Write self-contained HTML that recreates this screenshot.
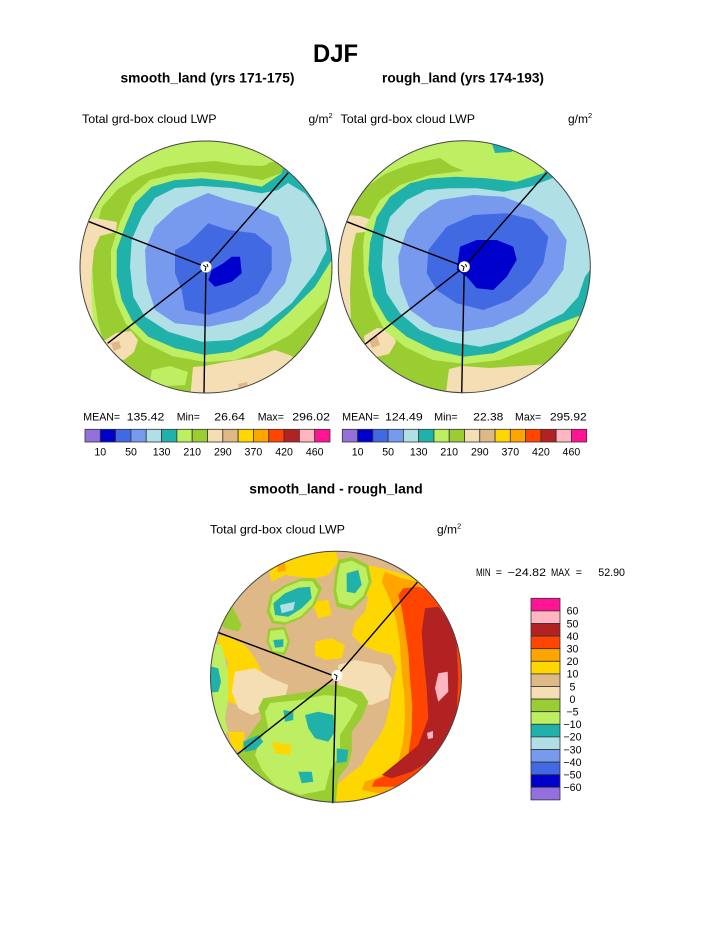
<!DOCTYPE html>
<html><head><meta charset="utf-8"><style>
html,body{margin:0;padding:0;background:#fff;}
svg{display:block;}
text{font-family:"Liberation Sans",Arial,sans-serif;fill:#000;}
</style></head><body>
<svg width="723" height="935" viewBox="0 0 723 935" xmlns="http://www.w3.org/2000/svg">
<rect width="723" height="935" fill="#fff"/>
<defs>
<clipPath id="cTL"><circle cx="206" cy="267" r="126"/></clipPath>
<clipPath id="cTR"><circle cx="464.3" cy="266.7" r="126"/></clipPath>
<clipPath id="cB"><circle cx="336" cy="676.7" r="125.5"/></clipPath>
</defs>

<!-- Titles -->
<text x="313" y="62" font-size="25" font-weight="bold" textLength="45" lengthAdjust="spacingAndGlyphs">DJF</text>
<text x="120.5" y="82.5" font-size="14" font-weight="bold" textLength="174" lengthAdjust="spacingAndGlyphs">smooth_land (yrs 171-175)</text>
<text x="382" y="82.5" font-size="14" font-weight="bold" textLength="162" lengthAdjust="spacingAndGlyphs">rough_land (yrs 174-193)</text>
<text x="82" y="123" font-size="12" textLength="134.5" lengthAdjust="spacingAndGlyphs">Total grd-box cloud LWP</text>
<text x="308.5" y="123" font-size="12">g/m<tspan font-size="7.5" dy="-5">2</tspan></text>
<text x="340.5" y="123" font-size="12" textLength="134.5" lengthAdjust="spacingAndGlyphs">Total grd-box cloud LWP</text>
<text x="568" y="123" font-size="12">g/m<tspan font-size="7.5" dy="-5">2</tspan></text>

<!-- ===== TOP LEFT PLOT ===== -->
<g clip-path="url(#cTL)">
<circle cx="206" cy="267" r="126" fill="#BEEE62"/>
<polygon fill="#9ACD32" points="282,160 262,166 240,165 215,161 190,163 165,167 140,176 118,189 102,207 94,235 92,265 94,295 98,322 104,345 125,372 160,392 200,400 235,380 262,372 290,360 312,345 328,330 345,320 345,160"/>
<polygon fill="#9ACD32" points="268,163 282,160 284,176 270,178"/>
<polygon fill="#F5DEB3" points="75,216 100,219 117,222 116,232 100,236 94,250 91,280 92,310 95,332 99,345 75,350"/>
<polygon fill="#F5DEB3" points="104,341 116,333 131,331 138,340 134,352 124,360 110,357"/>
<polygon fill="#DEB887" points="111,343 119,341 121,348 114,351"/>
<polygon fill="#F5DEB3" points="193,367 205,366 225,362 250,358 275,350 292,356 300,370 300,400 190,400"/>
<polygon fill="#DEB887" points="238,384 247,382 249,389 240,391"/>
<polygon fill="#BEEE62" points="152,370 170,366 188,372 185,385 165,386 150,380"/>
<polygon fill="#BEEE62" points="285,172 262,180 235,175 202,172 175,174 150,180 132,196 120,222 111,250 111,278 116,302 126,324 144,342 172,356 205,362 235,360 262,350 290,335 315,312 335,290 345,290 345,165"/>
<polygon fill="#20B2AA" points="281.7,173.3 261.7,186.7 235,181.7 201.7,178.3 175,180 151.7,186.7 135,203 125,226.7 116.7,250 116.7,276.7 121.7,300 131.7,320 148.3,336.7 175,348.3 205,355 231.7,351.7 261.7,336.7 288.3,313.3 315,286.7 331.7,260 345,260 345,165 285,160"/>
<polygon fill="#B0E0E6" points="278,190 261.7,193.3 231.7,188 201.7,186 175,188 155,198 141.7,216.7 131.7,240 130,266.7 133.3,296.7 145,316.7 168.3,331.7 201.7,341.7 231.7,340 261.7,326.7 291.7,303.3 315,273.3 326.7,250 323.3,216.7 305,193.3 288,183"/>
<polygon fill="#7799EE" points="208,193 228,200 255,206.7 278.3,216.7 288.3,236.7 291.7,260 285,283.3 268.3,303.3 241.7,320 208.3,326.7 175,323.3 155,310 146.7,283.3 145,250 155,226.7 175,208.3 191.7,200"/>
<polygon fill="#4169E1" points="208.3,223.3 228.3,230 255,233.3 271.7,246.7 271.7,270 258.3,293.3 235,306.7 208.3,315 185,310 181.7,290 175,273.3 175,250 188.3,243.3 201.7,230"/>
<polygon fill="#0000CD" points="231.7,256.7 240,256.7 241.7,273.3 231.7,281.7 215,286.7 208.3,280 211.7,270 223.3,263.3"/>
</g>
<g stroke="#000" stroke-width="1.4" fill="none">
<line x1="206" y1="267" x2="288.3" y2="172.7"/>
<line x1="206" y1="267" x2="89" y2="221.7"/>
<line x1="206" y1="267" x2="107.7" y2="343.3"/>
<line x1="206" y1="267" x2="204" y2="393"/>
</g>
<circle cx="206" cy="267" r="5.5" fill="#fff"/>
<path d="M203,265 l3,2 l-1,4 M207,264 l1,3" stroke="#000" stroke-width="1" fill="none"/>
<circle cx="206" cy="267" r="126" fill="none" stroke="#444" stroke-width="1"/>

<!-- ===== TOP RIGHT PLOT ===== -->
<g clip-path="url(#cTR)">
<circle cx="464.3" cy="266.7" r="126" fill="#BEEE62"/>
<polygon fill="#20B2AA" points="490,138 515,138 512,152 495,153"/>
<polygon fill="#9ACD32" points="345,222 352,205 365,188 385,174 410,164 440,158 452,166 500,185 540,190 570,240 585,290 597,335 600,400 330,400 330,350 350,340 350,230"/>
<polygon fill="#F5DEB3" points="333,214 360,216 375,221 373,231 356,233 352,250 350,290 351,330 357,346 333,352"/>
<polygon fill="#F5DEB3" points="364,336 377,328 392,330 396,342 389,354 376,357 366,349"/>
<polygon fill="#DEB887" points="369,339 377,336 380,345 372,348"/>
<polygon fill="#F5DEB3" points="449,369 462,366 490,368 520,366 550,364 575,358 592,362 600,400 445,400"/>
<polygon fill="#BEEE62" points="366,225 380,200 400,185 430,175 470,170 500,172 545,165 600,165 600,325 588,322 560,335 530,348 500,360 465,364 433,360 405,347 385,331 372,306 364,276 363,245"/>
<polygon fill="#20B2AA" points="543.3,173.3 516.7,181.7 486.7,178.3 456.7,176.7 430,178.3 410,183.3 390,196.7 376.7,216.7 370,243.3 368.3,270 373.3,296.7 386.7,320 406.7,336.7 433.3,350 463.3,356.7 493.3,353.3 523.3,340 550,326.7 576.7,316.7 588.3,313.3 600,312 600,160 555,160"/>
<polygon fill="#B0E0E6" points="530,186.7 503.3,191.7 476.7,188.3 450,188.3 426.7,190 406.7,200 390,216.7 383.3,240 381.7,266.7 386.7,293.3 400,313.3 420,330 450,341.7 480,346.7 510,340 536.7,326.7 563.3,313.3 578.3,296.7 585,276.7 600,256 605,175 558,176"/>
<polygon fill="#7799EE" points="440,200 473.3,195 503.3,196.7 530,206.7 553.3,220 566.7,240 563.3,270 546.7,293.3 523.3,313.3 493.3,326.7 463.3,331.7 433.3,326.7 410,310 400,283.3 398.3,256.7 406.7,230 420,213.3"/>
<polygon fill="#4169E1" points="446.7,226.7 473.3,215 506.7,213.3 533.3,220 548.3,236.7 543.3,263.3 530,283.3 510,300 483.3,310 456.7,303.3 436.7,290 426.7,273.3 428.3,250"/>
<polygon fill="#0000CD" points="460,246.7 476.7,240 496.7,240 513.3,246.7 516.7,260 506.7,276.7 493.3,290 476.7,288.3 466.7,276.7 456.7,270"/>
</g>
<g stroke="#000" stroke-width="1.4" fill="none">
<line x1="464.3" y1="266.7" x2="546.7" y2="172.7"/>
<line x1="464.3" y1="266.7" x2="346.7" y2="221.7"/>
<line x1="464.3" y1="266.7" x2="365" y2="344.3"/>
<line x1="464.3" y1="266.7" x2="461.7" y2="393.3"/>
</g>
<circle cx="464.3" cy="266.7" r="5.5" fill="#fff"/>
<path d="M461,265 l3,2 l-1,4 M465.5,264 l1,3" stroke="#000" stroke-width="1" fill="none"/>
<circle cx="464.3" cy="266.7" r="126" fill="none" stroke="#444" stroke-width="1"/>

<!-- Stats text -->
<g font-size="10.6">
<text x="83.3" y="420.5">MEAN=</text>
<text x="126.7" y="420.5" textLength="37.6" lengthAdjust="spacingAndGlyphs">135.42</text>
<text x="176.7" y="420.5">Min=</text>
<text x="214.3" y="420.5" textLength="30.7" lengthAdjust="spacingAndGlyphs">26.64</text>
<text x="257.7" y="420.5">Max=</text>
<text x="292.3" y="420.5" textLength="37.7" lengthAdjust="spacingAndGlyphs">296.02</text>
<text x="342.3" y="420.5">MEAN=</text>
<text x="385" y="420.5" textLength="37.7" lengthAdjust="spacingAndGlyphs">124.49</text>
<text x="434.3" y="420.5">Min=</text>
<text x="473.3" y="420.5" textLength="30" lengthAdjust="spacingAndGlyphs">22.38</text>
<text x="515" y="420.5">Max=</text>
<text x="550" y="420.5" textLength="36.7" lengthAdjust="spacingAndGlyphs">295.92</text>
</g>

<!-- Top-left colorbar -->
<g stroke="#333" stroke-width="0.8">
<rect x="85" y="429.3" width="15.31" height="12.7" fill="#9370DB"/>
<rect x="100.31" y="429.3" width="15.31" height="12.7" fill="#0000CD"/>
<rect x="115.63" y="429.3" width="15.31" height="12.7" fill="#4169E1"/>
<rect x="130.94" y="429.3" width="15.31" height="12.7" fill="#7799EE"/>
<rect x="146.25" y="429.3" width="15.31" height="12.7" fill="#B0E0E6"/>
<rect x="161.56" y="429.3" width="15.31" height="12.7" fill="#20B2AA"/>
<rect x="176.88" y="429.3" width="15.31" height="12.7" fill="#BEEE62"/>
<rect x="192.19" y="429.3" width="15.31" height="12.7" fill="#9ACD32"/>
<rect x="207.5" y="429.3" width="15.31" height="12.7" fill="#F5DEB3"/>
<rect x="222.81" y="429.3" width="15.31" height="12.7" fill="#DEB887"/>
<rect x="238.13" y="429.3" width="15.31" height="12.7" fill="#FFD700"/>
<rect x="253.44" y="429.3" width="15.31" height="12.7" fill="#FFA500"/>
<rect x="268.75" y="429.3" width="15.31" height="12.7" fill="#FF4500"/>
<rect x="284.06" y="429.3" width="15.31" height="12.7" fill="#B22222"/>
<rect x="299.38" y="429.3" width="15.31" height="12.7" fill="#FFB6C1"/>
<rect x="314.69" y="429.3" width="15.31" height="12.7" fill="#FF1493"/>
</g>
<g font-size="10.6" text-anchor="middle">
<text x="100.3" y="455.7">10</text>
<text x="131" y="455.7">50</text>
<text x="161.6" y="455.7">130</text>
<text x="192.2" y="455.7">210</text>
<text x="222.8" y="455.7">290</text>
<text x="253.4" y="455.7">370</text>
<text x="284.1" y="455.7">420</text>
<text x="314.7" y="455.7">460</text>
</g>

<!-- Top-right colorbar -->
<g stroke="#333" stroke-width="0.8">
<rect x="342.3" y="429.3" width="15.28" height="12.7" fill="#9370DB"/>
<rect x="357.58" y="429.3" width="15.28" height="12.7" fill="#0000CD"/>
<rect x="372.85" y="429.3" width="15.28" height="12.7" fill="#4169E1"/>
<rect x="388.13" y="429.3" width="15.28" height="12.7" fill="#7799EE"/>
<rect x="403.4" y="429.3" width="15.28" height="12.7" fill="#B0E0E6"/>
<rect x="418.68" y="429.3" width="15.28" height="12.7" fill="#20B2AA"/>
<rect x="433.95" y="429.3" width="15.28" height="12.7" fill="#BEEE62"/>
<rect x="449.23" y="429.3" width="15.28" height="12.7" fill="#9ACD32"/>
<rect x="464.5" y="429.3" width="15.28" height="12.7" fill="#F5DEB3"/>
<rect x="479.78" y="429.3" width="15.28" height="12.7" fill="#DEB887"/>
<rect x="495.05" y="429.3" width="15.28" height="12.7" fill="#FFD700"/>
<rect x="510.33" y="429.3" width="15.28" height="12.7" fill="#FFA500"/>
<rect x="525.6" y="429.3" width="15.28" height="12.7" fill="#FF4500"/>
<rect x="540.88" y="429.3" width="15.28" height="12.7" fill="#B22222"/>
<rect x="556.15" y="429.3" width="15.28" height="12.7" fill="#FFB6C1"/>
<rect x="571.43" y="429.3" width="15.28" height="12.7" fill="#FF1493"/>
</g>
<g font-size="10.6" text-anchor="middle">
<text x="357.6" y="455.7">10</text>
<text x="388.1" y="455.7">50</text>
<text x="418.7" y="455.7">130</text>
<text x="449.2" y="455.7">210</text>
<text x="479.8" y="455.7">290</text>
<text x="510.3" y="455.7">370</text>
<text x="540.9" y="455.7">420</text>
<text x="571.4" y="455.7">460</text>
</g>

<!-- Bottom titles -->
<text x="249.3" y="493.3" font-size="14" font-weight="bold" textLength="173.4" lengthAdjust="spacingAndGlyphs">smooth_land - rough_land</text>
<text x="210" y="533.3" font-size="12" textLength="135" lengthAdjust="spacingAndGlyphs">Total grd-box cloud LWP</text>
<text x="437" y="533.3" font-size="12">g/m<tspan font-size="7.5" dy="-5">2</tspan></text>

<g font-size="10.6">
<text x="476" y="576" textLength="14.7" lengthAdjust="spacingAndGlyphs">MIN</text>
<text x="495.7" y="576">=</text>
<text x="507.7" y="576" textLength="38.3" lengthAdjust="spacingAndGlyphs">−24.82</text>
<text x="551" y="576" textLength="19" lengthAdjust="spacingAndGlyphs">MAX</text>
<text x="575.7" y="576">=</text>
<text x="598.3" y="576" textLength="26.7" lengthAdjust="spacingAndGlyphs">52.90</text>
</g>

<!-- ===== BOTTOM DIFF PLOT ===== -->
<g clip-path="url(#cB)">
<circle cx="336" cy="676.7" r="125.5" fill="#DEB887"/>
<!-- yellows -->
<polygon fill="#FFD700" points="365,565 381.7,568.3 405,575 480,600 480,820 333.3,820 333.3,803.3 336.7,785 348.3,775 361.7,765 368.3,751.7 378.3,738.3 385,725 390,705 391.7,685 396.7,668.3 391.7,655 378.3,651.7 361.7,645 351.7,635 355,621.7 365,611.7 368.3,598.3 361.7,585 361.7,571.7"/>
<polygon fill="#FFD700" points="268.3,568.3 271.7,558.3 291.7,548 335,548 338.3,561.7 328.3,575 315,578.3 298.3,576.7 285,575 271.7,581.7"/>
<polygon fill="#FFD700" points="218.3,635 231.7,638.3 245,645 255,658.3 261.7,671.7 258.3,685 248.3,698.3 238.3,705 228.3,701.7 225,685 228.3,661.7 218.3,648.3"/>
<polygon fill="#FFD700" points="315,641.7 331.7,638.3 345,645 341.7,658.3 325,660 315,655"/>
<polygon fill="#FFD700" points="311.7,601.7 328.3,600 331.7,615 318.3,618.3"/>
<polygon fill="#FFA500" points="277,563 285,562 286,571 278,572"/>
<!-- wheat -->
<polygon fill="#F5DEB3" points="338.3,665 355,660 381.7,665 391.7,678.3 388.3,698.3 371.7,705 351.7,701.7 338.3,691.7"/>
<polygon fill="#F5DEB3" points="235,671.7 255,668.3 271.7,678.3 288.3,685 285,698.3 268.3,708.3 251.7,715 238.3,708.3 231.7,691.7"/>
<!-- green A -->
<polygon fill="#9ACD32" points="315,578.3 321.7,588.3 315,605 301.7,618.3 285,625 271.7,623.3 266.7,611.7 270,595 285,585 301.7,578.3"/>
<polygon fill="#BEEE62" transform="translate(293,602) scale(0.88) translate(-293,-602)" points="315,578.3 321.7,588.3 315,605 301.7,618.3 285,625 271.7,623.3 266.7,611.7 270,595 285,585 301.7,578.3"/>
<polygon fill="#20B2AA" points="310,586.7 311.7,598.3 301.7,608.3 288.3,616.7 275,615 273.3,603.3 285,593.3 298.3,587.7"/>
<polygon fill="#B0E0E6" points="280,605 295,601.7 293.3,610 281.7,613.3"/>
<!-- green B -->
<polygon fill="#9ACD32" points="338.3,560 351.7,556.7 368.3,565 371.7,581.7 365,598.3 351.7,610 336.7,606.7 333.3,591.7 335,575"/>
<polygon fill="#BEEE62" transform="translate(352,583) scale(0.85) translate(-352,-583)" points="338.3,560 351.7,556.7 368.3,565 371.7,581.7 365,598.3 351.7,610 336.7,606.7 333.3,591.7 335,575"/>
<polygon fill="#20B2AA" points="346.7,573.3 358.3,570 361.7,585 355,593.3 346.7,591.7"/>
<!-- green C -->
<polygon fill="#9ACD32" points="268.3,628.3 285,626.7 290,641.7 285,655 271.7,653.3 266.7,641.7"/>
<polygon fill="#BEEE62" transform="translate(278,641) scale(0.8) translate(-278,-641)" points="268.3,628.3 285,626.7 290,641.7 285,655 271.7,653.3 266.7,641.7"/>
<polygon fill="#20B2AA" points="273.3,640 283.3,639.3 283.3,646.7 275,647.7"/>
<!-- left edge -->
<polygon fill="#9ACD32" points="218.3,595 231.7,605 241.7,625 238.3,631.7 225,628.3 215,618.3"/>
<polygon fill="#BEEE62" points="205,641.7 221.7,645 228.3,671.7 228.3,698.3 225,718.3 228.3,731.7 218.3,738.3 205,735"/>
<polygon fill="#20B2AA" points="205,665 218.3,668.3 221,681.7 218.3,691.7 205,693.3"/>
<!-- big bottom-left green -->
<polygon fill="#9ACD32" points="263.3,698.3 285,695 308.3,691.7 328.3,685 338.3,685 361.7,691.7 368.3,701.7 361.7,718.3 351.7,731.7 351.7,751.7 348.3,765 338.3,778.3 335,810 300,812 255,800 245,771.7 238.3,758.3 241.7,745 251.7,731.7 261.7,718.3 258.3,708.3"/>
<polygon fill="#BEEE62" points="270,703 300,700 325,695 345,697 358,705 350,720 340,735 340,755 330,770 325,790 300,795 275,785 262,770 255,755 260,740 268,728 265,712"/>
<polygon fill="#20B2AA" points="305,715 318.3,711.7 333.3,715 335,731.7 328.3,741.7 315,738.3 308.3,728.3"/>
<polygon fill="#20B2AA" points="283.3,710 293.3,711.7 293.3,720 285,721.7"/>
<polygon fill="#20B2AA" points="243.3,741.7 258.3,735 263.3,741.7 255,750 245,751.7"/>
<polygon fill="#20B2AA" points="298.3,771.7 311.7,771.7 313.3,781.7 301.7,783.3"/>
<polygon fill="#20B2AA" points="336.7,748.3 348.3,750 346.7,761.7 336.7,763.3"/>
<polygon fill="#FFD700" points="271.7,741.7 291.7,745 290,755 275,753.3"/>
<polygon fill="#FFD700" points="228.3,731.7 245,731.7 241.7,751.7 231.7,748.3"/>
<!-- right crescent -->
<polygon fill="#FFA500" points="385,571.7 401.7,578.3 418.3,581.7 480,600 480,800 405,791.7 378.3,793.3 361.7,790 365,781.7 385,775 398.3,761.7 403.3,741.7 405,718.3 404.3,695 401.7,671.7 400,645 396.7,621.7 391.7,605 386.7,591.7 381.7,581.7"/>
<polygon fill="#FF4500" points="403.3,588.3 418.3,586.7 480,610 480,790 421.7,781.7 395,786.7 371.7,786.7 375,780 395,771.7 408.3,755 411.7,731.7 412.3,705 410,678.3 408.3,651.7 405,628.3 401.7,608.3 398.3,595"/>
<polygon fill="#B22222" points="425,608.3 438.3,606.7 450,621.7 456.7,645 458.3,678.3 456.7,711.7 448.3,738.3 435,758.3 411.7,771.7 391.7,778.3 381.7,775 398.3,761.7 418.3,745 428.3,718.3 426.7,688.3 423.3,655 421.7,631.7"/>
<polygon fill="#FFB6C1" points="438.3,673.3 447.7,671.7 448.3,691.7 438.3,701.7 435,688.3"/>
<polygon fill="#FFB6C1" points="427,733 433,731 433,738 428,739"/>
</g>
<g stroke="#000" stroke-width="1.4" fill="none">
<line x1="336" y1="676.7" x2="417.3" y2="582.3"/>
<line x1="336" y1="676.7" x2="217.7" y2="632.3"/>
<line x1="336" y1="676.7" x2="237.3" y2="754.3"/>
<line x1="336" y1="676.7" x2="332.7" y2="803.3"/>
</g>
<circle cx="337" cy="675.5" r="5.5" fill="#fff"/>
<path d="M334,674 l3,2 l-1,4" stroke="#000" stroke-width="1" fill="none"/>
<circle cx="336" cy="676.7" r="125.5" fill="none" stroke="#444" stroke-width="1"/>

<!-- Bottom colorbar -->
<g stroke="#333" stroke-width="0.8">
<rect x="531" y="598.3" width="29" height="12.6" fill="#FF1493"/>
<rect x="531" y="610.9" width="29" height="12.6" fill="#FFB6C1"/>
<rect x="531" y="623.5" width="29" height="12.6" fill="#B22222"/>
<rect x="531" y="636.1" width="29" height="12.6" fill="#FF4500"/>
<rect x="531" y="648.7" width="29" height="12.6" fill="#FFA500"/>
<rect x="531" y="661.3" width="29" height="12.6" fill="#FFD700"/>
<rect x="531" y="673.9" width="29" height="12.6" fill="#DEB887"/>
<rect x="531" y="686.5" width="29" height="12.6" fill="#F5DEB3"/>
<rect x="531" y="699.1" width="29" height="12.6" fill="#9ACD32"/>
<rect x="531" y="711.7" width="29" height="12.6" fill="#BEEE62"/>
<rect x="531" y="724.3" width="29" height="12.6" fill="#20B2AA"/>
<rect x="531" y="736.9" width="29" height="12.6" fill="#B0E0E6"/>
<rect x="531" y="749.5" width="29" height="12.6" fill="#7799EE"/>
<rect x="531" y="762.1" width="29" height="12.6" fill="#4169E1"/>
<rect x="531" y="774.7" width="29" height="12.6" fill="#0000CD"/>
<rect x="531" y="787.3" width="29" height="12.6" fill="#9370DB"/>
</g>
<g font-size="10.6" text-anchor="middle">
<text x="572.5" y="614.7">60</text>
<text x="572.5" y="627.3">50</text>
<text x="572.5" y="639.9">40</text>
<text x="572.5" y="652.5">30</text>
<text x="572.5" y="665.1">20</text>
<text x="572.5" y="677.7">10</text>
<text x="572.5" y="690.3">5</text>
<text x="572.5" y="702.9">0</text>
<text x="572.5" y="715.5">−5</text>
<text x="572.5" y="728.1">−10</text>
<text x="572.5" y="740.7">−20</text>
<text x="572.5" y="753.3">−30</text>
<text x="572.5" y="765.9">−40</text>
<text x="572.5" y="778.5">−50</text>
<text x="572.5" y="791.1">−60</text>
</g>
</svg>
</body></html>
